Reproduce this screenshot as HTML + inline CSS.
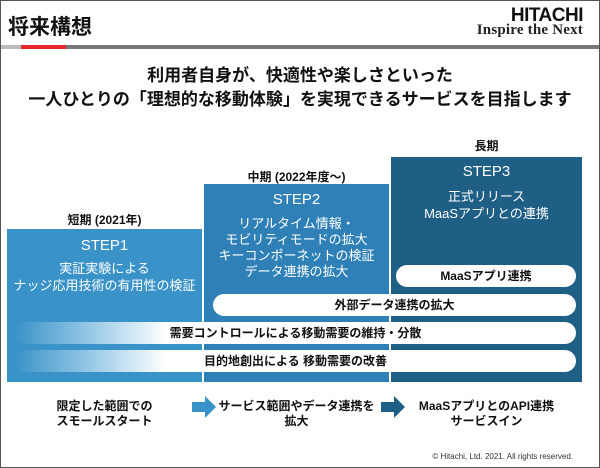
<!DOCTYPE html>
<html><head><meta charset="utf-8"><style>
*{margin:0;padding:0;box-sizing:border-box}
body{width:600px;height:468px;background:#fff;position:relative;overflow:hidden;font-family:"Liberation Sans","Noto Sans CJK JP",sans-serif;color:#111}
.a{position:absolute}
.c{text-align:center;white-space:nowrap}
.box{position:absolute;color:#fff;text-align:center}
.pill{position:absolute;background:#fff;border-radius:11px;height:22px;line-height:22px;text-align:center;font-size:12px;font-weight:bold;color:#111}
</style></head><body>
<div class="a" style="left:0;top:0;width:600px;height:468px;border:1px solid #555"></div>
<div class="a" style="left:8px;top:11px;font-size:21px;font-weight:bold">将来構想</div>
<div class="a" style="right:17px;top:5px;font-size:19px;font-weight:bold;letter-spacing:-0.5px">HITACHI</div>
<div class="a" style="right:17px;top:22px;font-family:'Liberation Serif',serif;font-size:15px;font-weight:bold;color:#222;letter-spacing:0.2px">Inspire the Next</div>
<div class="a" style="left:1px;top:45px;width:20px;height:4px;background:#bbb"></div>
<div class="a" style="left:21px;top:45px;width:45px;height:4px;background:#e8262b"></div>
<div class="a" style="left:66px;top:45px;width:533px;height:4px;background:#777"></div>
<div class="a c" style="left:0;width:600px;top:64px;font-size:17px;font-weight:bold;line-height:24px">利用者自身が、快適性や楽しさといった<br>一人ひとりの「理想的な移動体験」を実現できるサービスを目指します</div>

<div class="a c" style="left:7px;width:195px;top:211px;font-size:12px;font-weight:bold">短期 (2021年)</div>
<div class="a c" style="left:204px;width:185px;top:168px;font-size:12px;font-weight:bold">中期 (2022年度～)</div>
<div class="a c" style="left:391px;width:191px;top:137px;font-size:12px;font-weight:bold">長期</div>

<div class="box" style="left:7px;top:229px;width:195px;height:153px;background:#3a93c8">
<div style="font-size:15px;margin-top:8px">STEP1</div>
<div style="font-size:13px;line-height:17px;margin-top:6px">実証実験による<br>ナッジ応用技術の有用性の検証</div></div>
<div class="box" style="left:204px;top:184px;width:185px;height:198px;background:#2f80b6">
<div style="font-size:15px;margin-top:7px">STEP2</div>
<div style="font-size:13px;line-height:16px;margin-top:8px">リアルタイム情報・<br>モビリティモードの拡大<br>キーコンポーネットの検証<br>データ連携の拡大</div></div>
<div class="box" style="left:391px;top:157px;width:191px;height:225px;background:#1f5f86">
<div style="font-size:15px;margin-top:6px">STEP3</div>
<div style="font-size:13px;line-height:17px;margin-top:8px">正式リリース<br>MaaSアプリとの連携</div></div>

<div class="pill" style="left:396px;top:265px;width:180px">MaaSアプリ連携</div>
<div class="pill" style="left:213px;top:294px;width:363px">外部データ連携の拡大</div>
<div class="pill" style="left:15px;top:322px;width:561px;background:linear-gradient(90deg,#3a93c8 0%,#8cc3e3 12%,#fff 27%)">需要コントロールによる移動需要の維持・分散</div>
<div class="pill" style="left:15px;top:350px;width:561px;background:linear-gradient(90deg,#3a93c8 0%,#8cc3e3 12%,#fff 27%)">目的地創出による 移動需要の改善</div>

<div class="a c" style="left:7px;width:195px;top:399px;font-size:12px;font-weight:bold;line-height:15px">限定した範囲での<br>スモールスタート</div>
<div class="a c" style="left:204px;width:185px;top:399px;font-size:12px;font-weight:bold;line-height:15px">サービス範囲やデータ連携を<br>拡大</div>
<div class="a c" style="left:391px;width:191px;top:399px;font-size:12px;font-weight:bold;line-height:15px">MaaSアプリとのAPI連携<br>サービスイン</div>
<svg class="a" style="left:0;top:0" width="600" height="468">
<polygon points="192,402 205,402 205,396 216,407 205,418 205,412 192,412" fill="#3a93c8"/>
<polygon points="381,402 394,402 394,396 405,407 394,418 394,412 381,412" fill="#1f5f86"/>
</svg>
<div class="a" style="right:27px;top:452px;font-size:8px;color:#333">© Hitachi, Ltd. 2021. All rights reserved.</div>
</body></html>
